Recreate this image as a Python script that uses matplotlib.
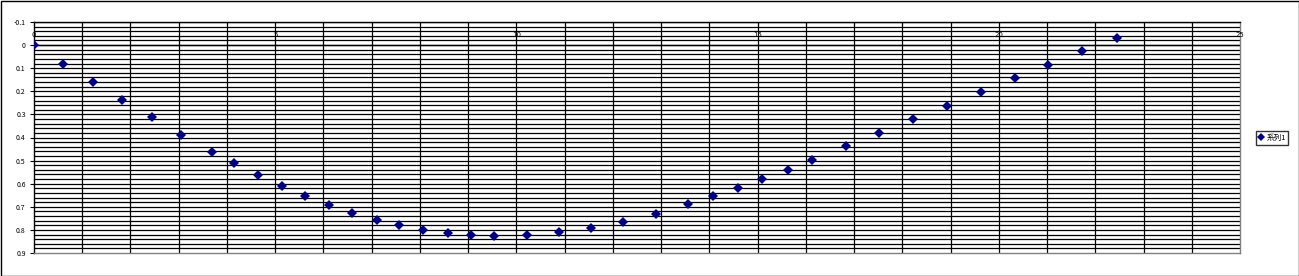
import numpy as np
import matplotlib
matplotlib.use("Agg")
import matplotlib.pyplot as plt
from matplotlib.patches import Rectangle

plt.rcParams['font.family'] = ['Noto Sans CJK JP', 'DejaVu Sans']

# data (y axis is reversed)
x_vals = [0.0, 0.61, 1.23, 1.83, 2.45, 3.05, 3.68, 4.15, 4.65, 5.15,
          5.62, 6.12, 6.60, 7.10, 7.57, 8.07, 8.58, 9.05, 9.54, 10.21,
          10.89, 11.55, 12.22, 12.89, 13.56, 14.08, 14.60, 15.10, 15.62, 16.13,
          16.84, 17.52, 18.23, 18.93, 19.64, 20.34, 21.03, 21.73, 22.44]
y_vals = [0.0, 0.082, 0.161, 0.238, 0.312, 0.389, 0.461, 0.512, 0.563, 0.611,
          0.654, 0.693, 0.728, 0.757, 0.780, 0.802, 0.815, 0.823, 0.828, 0.823,
          0.809, 0.793, 0.766, 0.732, 0.688, 0.654, 0.620, 0.581, 0.542, 0.499,
          0.438, 0.382, 0.321, 0.265, 0.204, 0.144, 0.086, 0.027, -0.029]
series_name = "系列1"

x_ticks = [0, 5, 10, 15, 20, 25]
y_ticks = [-0.1, 0, 0.1, 0.2, 0.3, 0.4, 0.5, 0.6, 0.7, 0.8, 0.9]
y_labels = ["-0.1", "0", "0.1", "0.2", "0.3", "0.4", "0.5", "0.6", "0.7", "0.8", "0.9"]

W, H = 1299, 276
fig = plt.figure(figsize=(W / 100, H / 100), dpi=100)
ax = fig.add_axes([34 / W, 1 - 253 / H, (1240 - 34) / W, (253 - 22) / H])

ax.set_xlim(0, 25)
ax.set_ylim(0.9, -0.1)

# grid: vertical every 1, horizontal every 0.02
for gx in np.arange(1, 25, 1):
    ax.axvline(gx, color='black', lw=0.9, zorder=1)
for gy in np.arange(-0.1, 0.9, 0.02):
    ax.axhline(gy, color='black', lw=0.9, zorder=1)
ax.axhline(0, color='black', lw=1.0, zorder=1)

ax.plot(x_vals, y_vals, linestyle='none', marker='D', markersize=4.6,
        markeredgewidth=0, color='#000080', zorder=3, label=series_name)

for s in ['right', 'bottom']:
    ax.spines[s].set_color('#808080')
for s in ['left', 'top']:
    ax.spines[s].set_color('black')
for s in ax.spines.values():
    s.set_linewidth(1)

ax.set_yticks(y_ticks)
ax.set_yticklabels(y_labels)
ax.tick_params(axis='y', direction='out', length=3, width=0.8, labelsize=5, pad=3)
ax.set_xticks([])
for t in x_ticks:
    ax.text(t, -0.045, str(t), ha='center', va='center', fontsize=5, family=['DejaVu Sans'])

leg = ax.legend(loc='center left', bbox_to_anchor=(1256 / W, 1 - 138 / H),
                bbox_transform=fig.transFigure, fontsize=5.5, frameon=True,
                fancybox=False, handlelength=0.6, handletextpad=0.4,
                borderpad=0.35, borderaxespad=0, markerscale=0.8)
leg.get_frame().set_edgecolor('black')
leg.get_frame().set_linewidth(1)

fig.patches.append(Rectangle((0.5 / W, 0.5 / H), 1 - 1 / W, 1 - 1 / H,
                             transform=fig.transFigure, fill=False,
                             edgecolor='black', lw=1))

fig.savefig("out.png", dpi=100)
